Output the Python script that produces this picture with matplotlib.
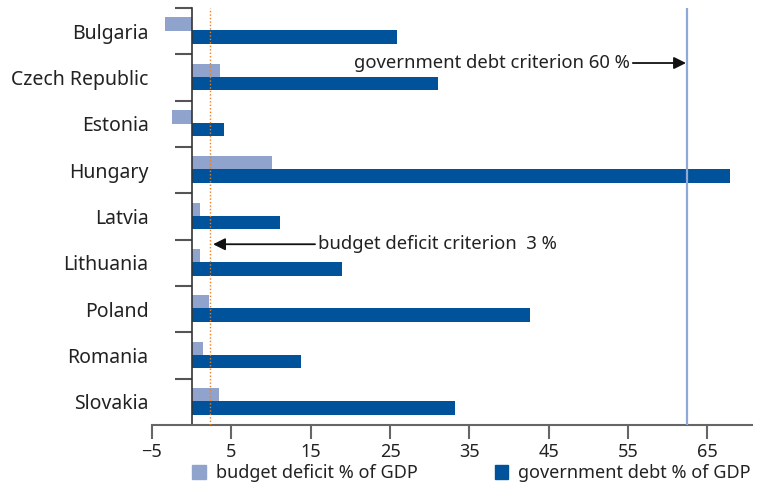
import matplotlib.pyplot as plt
from matplotlib.patches import Patch
import numpy as np

plt.rcParams['font.family'] = ['Noto Sans', 'DejaVu Sans']

countries = ['Bulgaria', 'Czech Republic', 'Estonia', 'Hungary', 'Latvia',
             'Lithuania', 'Poland', 'Romania', 'Slovakia']
deficit = [-3.3, 3.6, -2.5, 10.1, 1.1, 1.1, 2.2, 1.45, 3.45]
debt = [25.9, 31.0, 4.1, 67.8, 11.15, 18.95, 42.6, 13.8, 33.2]
x_ticks = [-5, 5, 15, 25, 35, 45, 55, 65]
debt_line = 62.4
deficit_line = 2.35

light = '#8fa3cc'
dark = '#00529b'
txt = '#222222'

fig = plt.figure(figsize=(7.61, 4.91), dpi=100)
ax = fig.add_axes([0.1997, 0.1344, 0.7883, 0.8496])

y = np.arange(len(countries))
ax.barh(y - 0.15, deficit, height=0.29, color=light, zorder=2)
ax.barh(y + 0.13, debt, height=0.29, color=dark, zorder=2)

ax.axvline(debt_line, color='#8fa8d8', lw=1.6, zorder=3)
ax.axvline(deficit_line, color='#f07d1a', lw=1.0, ls=(0, (1, 1.5)), zorder=3)

ax.set_xlim(-5, 70.6)
ax.set_ylim(len(countries) - 0.5, -0.5)

for s in ['top', 'right']:
    ax.spines[s].set_visible(False)
ax.spines['left'].set_position(('data', 0))
ax.spines['left'].set_color('#333333')
ax.spines['left'].set_linewidth(1.2)
ax.spines['bottom'].set_color('#666666')
ax.spines['bottom'].set_linewidth(1.5)

ax.set_xticks(x_ticks)
ax.tick_params(axis='x', length=10, width=1.5, color='#666666',
               labelsize=13, labelcolor=txt, pad=3)

# separator ticks between countries, labels sit on minor ticks
ax.set_yticks(np.arange(len(countries)) - 0.5)
ax.set_yticklabels([])
ax.tick_params(axis='y', which='major', length=12, width=1.5, color='#555555')
ax.set_yticks(y, minor=True)
ax.set_yticklabels(countries, minor=True)
ax.tick_params(axis='y', which='minor', length=0, pad=31,
               labelsize=14, labelcolor=txt)

ax.text(55.2, 0.69, 'government debt criterion 60 %', ha='right', va='center',
        fontsize=13.3, color=txt)
ax.annotate('', xy=(62.3, 0.69), xytext=(55.6, 0.69),
            arrowprops=dict(arrowstyle='-|>', color='#111111', lw=1.3,
                            mutation_scale=18, shrinkA=0, shrinkB=0))
ax.text(15.9, 4.6, 'budget deficit criterion  3 %', ha='left', va='center',
        fontsize=13.3, color=txt)
ax.annotate('', xy=(2.7, 4.6), xytext=(15.55, 4.6),
            arrowprops=dict(arrowstyle='-|>', color='#111111', lw=1.3,
                            mutation_scale=18, shrinkA=0, shrinkB=0))

handles = [Patch(color=light, label='budget deficit % of GDP'),
           Patch(color=dark, label='government debt % of GDP')]
fig.legend(handles=handles, loc='center left', bbox_to_anchor=(0.231, 0.036),
           ncol=2, frameon=False, fontsize=13, handlelength=0.75,
           handleheight=0.75, handletextpad=0.55, columnspacing=4.3,
           labelcolor=txt)

fig.savefig('out.png', dpi=100)
